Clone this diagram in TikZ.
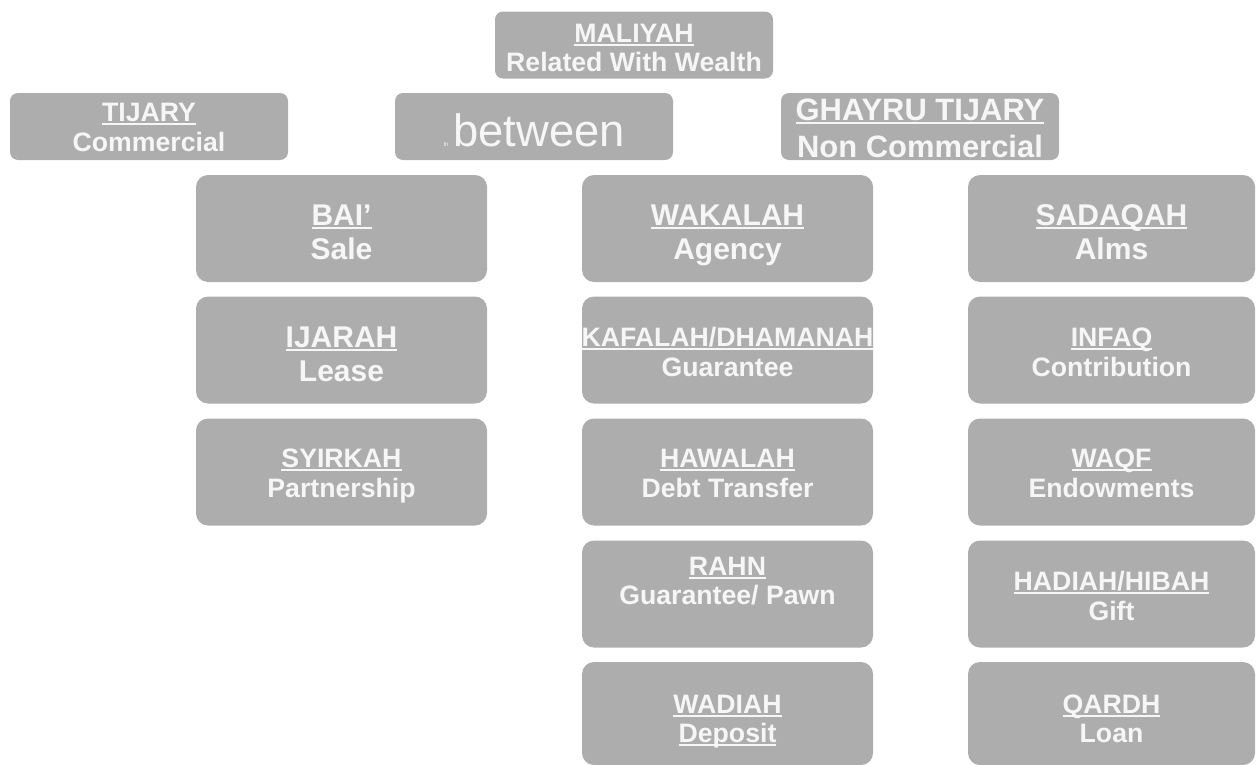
\documentclass[tikz,border=0pt]{standalone}
\usepackage{fontspec}
\setmainfont{Liberation Sans}
\definecolor{boxgray}{RGB}{173,173,173}
\definecolor{txtc}{RGB}{246,246,246}
\newcommand\myul[1]{\setbox0=\hbox{#1}\rlap{\rule[-2.8pt]{\wd0}{1.1pt}}\box0}
\newcommand\duo[7][]{%
  \node[tx,#1] (#2a) at (#3,#4) {#6};
  \node[tx,#1] (#2b) at (#3,#5) {#7};}
\begin{document}
\begin{tikzpicture}[x=0.75pt,y=-0.75pt,
  bx/.style={fill=boxgray, draw=none, rounded corners=9pt, inner sep=0pt,
    minimum width=218.25pt, minimum height=80.25pt},
  tbx/.style={fill=boxgray, draw=none, rounded corners=6pt, inner sep=0pt,
    minimum width=208.5pt, minimum height=50.25pt},
  tx/.style={text=txtc, anchor=base, inner sep=0pt,
    font=\bfseries\fontsize{20}{24}\selectfont},
  big/.style={font=\bfseries\fontsize{22.5}{27}\selectfont}]
\useasboundingbox (0,0) rectangle (1256,764);
\clip (0,0) rectangle (1256,764);
% top row
\node[tbx] (maliyah) at (634,45) {};
\duo{maliyahT}{634}{42}{71}{\myul{MALIYAH}}{Related With Wealth}
\node[tbx] (tijary) at (149,126.5) {};
\duo{tijaryT}{149}{121}{151}{\myul{TIJARY}}{Commercial}
\node[tbx] (between) at (534,126.5) {};
\node[tx, font=\fontsize{34}{40}\selectfont] (betweenT) at (539,146) {between};
\node[tx, font=\fontsize{4.5}{5}\selectfont] (inT) at (446,146) {In};
\node[tbx] (ghayru) at (920,126.5) {};
\duo[font=\bfseries\fontsize{23.2}{27}\selectfont]{ghayruT}{920}{120}{157}{\myul{GHAYRU TIJARY}}{Non Commercial}
% column 1
\node[bx] (bai) at (341.5,228.5) {};
\duo[big]{baiT}{341.5}{225}{259}{\myul{BAI’}}{Sale}
\node[bx] (ijarah) at (341.5,350) {};
\duo[big]{ijarahT}{341.5}{347}{381}{\myul{IJARAH}}{Lease}
\node[bx] (syirkah) at (341.5,472) {};
\duo{syirkahT}{341.5}{467}{497}{\myul{SYIRKAH}}{Partnership}
% column 2
\node[bx] (wakalah) at (727.5,228.5) {};
\duo[big]{wakalahT}{727.5}{225}{259}{\myul{WAKALAH}}{Agency}
\node[bx] (kafalah) at (727.5,350) {};
\duo{kafalahT}{727.5}{346}{376}{\myul{KAFALAH/DHAMANAH}}{Guarantee}
\node[bx] (hawalah) at (727.5,472) {};
\duo{hawalahT}{727.5}{467}{497}{\myul{HAWALAH}}{Debt Transfer}
\node[bx] (rahn) at (727.5,594) {};
\duo{rahnT}{727.5}{575}{604}{\myul{RAHN}}{Guarantee/ Pawn}
\node[bx, minimum height=77.25pt] (wadiah) at (727.5,713.5) {};
\duo{wadiahT}{727.5}{713}{742}{\myul{WADIAH}}{\myul{Deposit}}
% column 3
\node[bx, minimum width=215.25pt] (sadaqah) at (1111.5,228.5) {};
\duo[big]{sadaqahT}{1111.5}{225}{259}{\myul{SADAQAH}}{Alms}
\node[bx, minimum width=215.25pt] (infaq) at (1111.5,350) {};
\duo{infaqT}{1111.5}{346}{376}{\myul{INFAQ}}{Contribution}
\node[bx, minimum width=215.25pt] (waqf) at (1111.5,472) {};
\duo{waqfT}{1111.5}{467}{497}{\myul{WAQF}}{Endowments}
\node[bx, minimum width=215.25pt] (hadiah) at (1111.5,594) {};
\duo{hadiahT}{1111.5}{590}{620}{\myul{HADIAH/HIBAH}}{Gift}
\node[bx, minimum width=215.25pt, minimum height=77.25pt] (qardh) at (1111.5,713.5) {};
\duo{qardhT}{1111.5}{713}{742}{\myul{QARDH}}{Loan}
\end{tikzpicture}
\end{document}
